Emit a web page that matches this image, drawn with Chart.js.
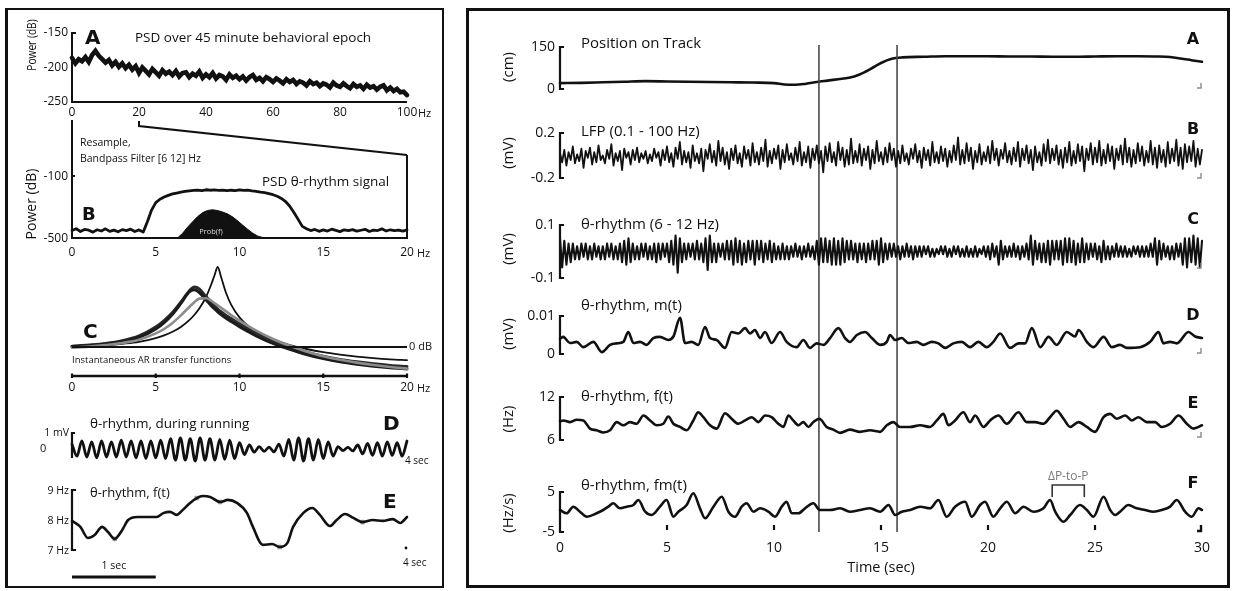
<!DOCTYPE html>
<html><head><meta charset="utf-8">
<script src="https://cdn.jsdelivr.net/npm/chart.js@4"></script>
<style>
html,body{margin:0;padding:0;background:#fff;}
#stage{position:relative;width:1233px;height:591px;overflow:hidden;background:#fff;font-family:"Open Sans",sans-serif;color:#111;}
.t{position:absolute;white-space:nowrap;line-height:1;}
.box{position:absolute;box-sizing:border-box;border:2px solid #111;}
canvas{position:absolute;}
</style></head><body><div id="stage"></div>
<script>
// ---------------- DATA ----------------
// Left A: PSD over 45 minute epoch, 0..100 Hz (1 Hz grid), dB
const psdA = [-186,-194,-188,-191,-185,-192,-182,-176,-183,-188,
-193,-189,-197,-192,-199,-194,-201,-196,-203,-198,
-208,-200,-205,-210,-202,-207,-212,-204,-209,-206,
-211,-205,-213,-208,-207,-214,-209,-212,-206,-215,
-210,-214,-208,-216,-211,-213,-218,-210,-215,-212,
-217,-213,-219,-214,-211,-218,-215,-220,-214,-217,
-221,-216,-219,-223,-217,-221,-218,-224,-220,-222,
-226,-220,-224,-222,-227,-223,-225,-229,-222,-226,
-228,-223,-227,-230,-224,-228,-226,-231,-225,-229,
-227,-232,-228,-226,-233,-229,-234,-231,-236,-235,-240];
const psdAticksY = [-150,-200,-250];
const psdAticksX = [0,20,40,60,80,100];
// Left B: PSD theta signal 0..20 Hz (0.25 Hz grid)
const psdB = [-452,-440,-458,-445,-450,-462,-447,-455,-441,-457,-449,-460,-446,-452,-443,-458,-448,
-462,-395,-320,-272,-250,-236,-225,-216,-210,-205,-200,-196,-193,-191,-194,-189,-192,-190,-193,-191,-195,-192,-194,-190,-193,-192,-196,-199,-204,-208,-214,-221,-231,-245,-265,-295,-335,-380,-425,-440,
-452,-445,-457,-448,-455,-443,-451,-459,-447,-453,-446,-456,-450,-444,-458,-449,-452,-441,-455,-447,-453,-449,-456,-448];
const probF = [6.3,6.6,6.9,7.2,7.5,7.8,8.1,8.4,8.7,9.0,9.3,9.6,9.9,10.2,10.5,10.8,11.1,11.5];
const probV = [-500,-470,-430,-395,-362,-336,-322,-318,-323,-333,-345,-365,-390,-418,-445,-470,-488,-500];
const psdBticksY = [-100,-500];
const freqTicks20 = [0,5,10,15,20];
// Left C: instantaneous AR transfer functions (dB)
const arFreq   = [0,1,2,3,4,5,5.5,6,6.5,7,7.3,7.6,8,8.3,8.5,8.7,8.9,9.2,9.5,10,10.5,11,12,13,14,15,16,17,18,19,20];
const arThick1 = [0.2,0.5,0.9,1.6,2.8,5,6.6,8.6,11.2,14.0,15.0,14.5,12.6,11.2,10.3,9.5,8.8,7.9,7.1,5.8,4.6,3.5,1.6,0.0,-1.3,-2.3,-3.1,-3.7,-4.2,-4.6,-4.9];
const arThick2 = [0.0,0.3,0.7,1.3,2.4,4.5,6.1,8.2,10.9,13.8,14.3,13.6,11.8,10.4,9.6,8.8,8.1,7.2,6.4,5.1,3.9,2.8,0.9,-0.6,-1.9,-2.9,-3.7,-4.3,-4.8,-5.2,-5.5];
const arGray   = [-0.2,0.1,0.5,1.0,1.8,3.4,4.5,6.0,7.9,10.0,11.2,12.1,12.2,11.6,11.0,10.4,9.8,8.9,8.0,6.6,5.3,4.1,2.0,0.3,-1.1,-2.3,-3.2,-3.9,-4.5,-5.0,-5.4];
const arSharp  = [0.0,0.2,0.4,0.8,1.3,2.2,2.9,3.8,5.0,6.7,8.0,9.6,12.5,15.5,17.8,20.0,17.5,13.5,10.6,7.4,5.3,3.9,1.9,0.5,-0.5,-1.3,-1.9,-2.4,-2.8,-3.1,-3.3];
// Left D: theta during running, 0..4 s (successive extremes), mV
const runTheta = [0.3,
-0.45,0.5,-0.5,0.45,-0.55,0.5,-0.5,0.45,-0.5,0.55,-0.5,0.5,-0.55,0.5,-0.6,0.5,-0.55,0.55,-0.6,
0.65,-0.7,0.7,-0.7,0.65,-0.75,0.7,-0.7,0.65,-0.7,0.6,-0.65,0.55,-0.6,
0.4,-0.35,0.25,-0.2,0.15,-0.15,0.12,-0.18,
0.3,-0.45,0.6,-0.7,0.7,-0.75,0.65,-0.7,0.6,-0.6,0.45,-0.45,
0.15,-0.1,0.1,-0.12,
0.25,-0.3,0.35,-0.4,0.4,-0.45,0.45,-0.4,0.4,-0.45,0.5];
// Left E: theta f(t), 0..4 s, Hz
const ftLT = [0,0.1,0.19,0.27,0.36,0.43,0.51,0.6,0.67,0.78,0.9,1.01,1.09,1.17,1.25,1.32,1.41,1.49,1.56,1.65,1.77,1.86,1.97,2.09,2.16,2.28,2.39,2.48,2.57,2.64,2.76,2.87,2.96,3.08,3.16,3.26,3.36,3.47,3.59,3.71,3.83,3.92,4.0];
const ftLV = [7.97,7.77,7.4,7.5,7.77,7.6,7.37,7.67,8.0,8.1,8.1,8.1,8.23,8.27,8.17,8.33,8.57,8.73,8.8,8.77,8.6,8.67,8.57,8.23,7.77,7.17,7.2,7.1,7.23,7.77,8.23,8.4,8.17,7.8,8.0,8.2,8.07,7.93,8.0,7.97,8.03,7.9,8.1];
const ftMarkT = [0.51,1.49,1.77,2.48,3.47];
const ftMarkV = [7.37,8.73,8.6,7.1,7.93];
const ftLticks = [9,8,7];

// Right panel (time 0..30 s)
const timeTicks = [0,5,10,15,20,25,30];
const eventTimes = [12.1,15.75];
const ppStart = 23.0, ppEnd = 24.5;
const posT = [0,1,2,3,4,5,6,7,8,9,10,10.5,11,11.5,12,12.5,13,13.5,14,14.5,15,15.5,16,17,18,19,20,21,22,23,24,25,26,27,28,28.5,29,29.5,30];
const posV = [21,22,24,26,28,27,26,25,24,23,21,16,15,19,25,30,35,40,52,71,93,108,113,115,117,117,117,116,116,115,115,116,117,117,116,114,109,103,97];
// LFP 0.1-100 Hz, 0..30 s (0.1 s grid), mV
const lfp = [.02,-.06,.05,-.09,.03,-.04,.08,-.07,.01,-.05,
.06,-.11,.04,-.02,.07,-.08,.03,-.06,.09,-.04,
.00,-.07,.05,-.03,.10,-.09,.02,-.05,.04,-.13,
.06,-.02,.03,-.08,.05,-.04,.07,-.06,.02,-.03,
.04,-.07,.01,-.05,.06,-.02,.03,-.09,.05,-.04,
.08,-.06,.02,-.10,.07,-.03,.12,-.08,.04,-.06,
.03,-.11,.09,-.05,.02,-.07,.06,-.14,.05,-.03,
.10,-.06,.04,-.09,.13,-.05,.07,-.08,.03,-.12,
.06,-.04,.09,-.07,.02,-.10,.08,-.03,.05,-.09,
.11,-.06,.03,-.08,.07,-.05,.14,-.10,.04,-.07,
.06,-.03,.09,-.12,.05,-.06,.10,-.04,.02,-.08,
.07,-.05,.12,-.09,.03,-.06,.08,-.11,.06,-.04,
.09,-.07,.04,-.15,.08,-.05,.11,-.06,.03,-.09,
.12,-.04,.07,-.10,.05,-.08,.15,-.07,.04,-.06,
.10,-.09,.06,-.04,.08,-.12,.05,-.07,.13,-.05,
.03,-.08,.07,-.06,.11,-.04,.06,-.10,.04,-.07,
.09,-.05,.02,-.08,.06,-.03,.10,-.06,.04,-.11,
.07,-.04,.05,-.09,.12,-.06,.03,-.07,.08,-.05,
.06,-.10,.04,-.06,.09,-.04,.16,-.08,.05,-.07,
.11,-.05,.07,-.12,.04,-.06,.10,-.08,.03,-.05,
.08,-.07,.13,-.04,.06,-.09,.05,-.03,.11,-.06,
.04,-.08,.07,-.05,.12,-.10,.06,-.04,.09,-.07,
.05,-.13,.08,-.06,.03,-.09,.10,-.05,.14,-.07,
.06,-.04,.09,-.08,.05,-.11,.07,-.06,.12,-.09,
.04,-.07,.10,-.05,.08,-.14,.06,-.04,.11,-.08,
.07,-.06,.13,-.09,.05,-.07,.10,-.05,.08,-.12,
.06,-.04,.09,-.08,.15,-.06,.07,-.10,.05,-.07,
.11,-.05,.08,-.09,.04,-.06,.13,-.08,.07,-.11,
.09,-.06,.05,-.10,.12,-.07,.06,-.05,.14,-.09,
.07,-.12,.10,-.06,.08,-.05,.13,-.10,.06,-.08,.05];
// theta-band signal 6-12 Hz, 0..30 s, mV
const theta = [.05,-.06,.04,-.05,.03,-.04,.03,-.03,.02,-.03,
.03,-.02,.03,-.03,.02,-.03,.03,-.02,.02,-.03,
.02,-.03,.03,-.02,.03,-.03,.02,-.03,.03,-.04,
.04,-.05,.05,-.04,.03,-.03,.02,-.03,.03,-.02,
.03,-.03,.02,-.03,.03,-.04,.03,-.03,.03,-.02,
.03,-.04,.04,-.05,.06,-.08,.05,-.04,.03,-.03,
.03,-.02,.03,-.03,.04,-.03,.03,-.04,.05,-.07,
.06,-.04,.03,-.04,.03,-.02,.03,-.03,.04,-.03,
.04,-.05,.05,-.04,.04,-.05,.03,-.04,.04,-.03,
.04,-.05,.04,-.03,.04,-.04,.03,-.03,.04,-.04,
.03,-.03,.02,-.03,.03,-.03,.02,-.03,.02,-.02,
.03,-.02,.02,-.03,.02,-.02,.03,-.02,.02,-.03,
.04,-.05,.05,-.04,.05,-.04,.04,-.05,.05,-.05,
.04,-.05,.05,-.04,.04,-.03,.04,-.03,.03,-.04,
.03,-.03,.03,-.04,.03,-.03,.04,-.03,.04,-.05,
.05,-.04,.03,-.03,.03,-.02,.03,-.02,.02,-.03,
.02,-.02,.03,-.02,.02,-.03,.02,-.02,.02,-.02,
.02,-.01,.02,-.02,.01,-.02,.01,-.01,.02,-.01,
.02,-.02,.01,-.02,.02,-.01,.02,-.02,.01,-.02,
.02,-.02,.01,-.02,.02,-.02,.01,-.01,.02,-.02,
.02,-.03,.03,-.02,.02,-.05,.04,-.03,.02,-.02,
.02,-.02,.03,-.02,.02,-.03,.02,-.02,.03,-.03,
.06,-.05,.04,-.03,.03,-.04,.03,-.04,.04,-.05,
.04,-.03,.04,-.03,.04,-.05,.05,-.04,.05,-.04,
.04,-.05,.03,-.04,.05,-.04,.03,-.03,.03,-.02,
.03,-.03,.02,-.04,.04,-.03,.02,-.03,.02,-.02,
.03,-.02,.02,-.02,.02,-.02,.01,-.02,.02,-.01,
.02,-.02,.02,-.02,.02,-.02,.03,-.02,.05,-.05,
.04,-.03,.03,-.02,.02,-.03,.02,-.03,.03,-.02,
.03,-.05,.05,-.06,.05,-.04,.06,-.05,.05,-.06,.04];
// theta amplitude m(t), mV
const mT = [0,0.16,0.23,0.47,0.78,1.09,1.56,1.95,2.34,2.65,2.96,3.19,3.43,3.74,4.05,4.36,4.67,5.06,5.30,5.61,5.84,6.15,6.46,6.78,7.01,7.32,7.71,8.02,8.33,8.65,8.88,9.11,9.35,9.58,9.89,10.28,10.59,11.06,11.37,11.68,11.99,12.31,12.62,13.01,13.32,13.55,13.87,14.26,14.57,14.96,15.27,15.42,15.66,15.97,16.28,16.67,16.98,17.37,17.68,18.0,18.38,18.77,19.16,19.55,19.94,20.25,20.57,21.03,21.42,21.73,22.05,22.44,22.83,23.21,23.68,24.07,24.23,24.62,24.93,25.4,25.79,26.17,26.49,27.11,27.58,27.97,28.2,28.51,28.82,29.37,29.68,30.0];
const mV = [.0040,.0045,.0042,.0029,.0032,.0018,.0032,.0005,.0024,.0028,.0032,.0058,.0029,.0032,.0024,.0042,.0045,.0037,.0046,.0095,.0029,.0032,.0024,.0071,.0042,.0037,.0016,.0058,.0054,.0068,.0054,.0063,.0042,.0058,.0029,.0058,.0032,.0018,.0037,.0016,.0028,.0024,.0042,.0068,.0042,.0032,.0050,.0058,.0042,.0024,.0032,.0050,.0037,.0042,.0029,.0032,.0024,.0032,.0028,.0016,.0028,.0032,.0018,.0032,.0018,.0032,.0054,.0016,.0028,.0028,.0068,.0018,.0045,.0024,.0058,.0046,.0063,.0032,.0018,.0045,.0018,.0024,.0016,.0018,.0032,.0058,.0028,.0032,.0028,.0058,.0046,.0042];
// theta frequency f(t), Hz
const fT = [0,0.16,0.47,0.78,1.09,1.40,1.71,2.02,2.34,2.65,2.96,3.27,3.58,3.90,4.21,4.52,4.83,5.06,5.30,5.61,5.92,6.23,6.46,6.70,7.01,7.32,7.71,8.02,8.33,8.65,8.96,9.27,9.58,9.89,10.2,10.44,10.67,10.9,11.14,11.37,11.61,11.84,12.12,12.46,12.77,13.09,13.55,14.02,14.49,14.96,15.27,15.58,15.89,16.36,16.83,17.29,17.61,17.92,18.15,18.46,18.85,19.16,19.4,19.79,20.1,20.49,20.88,21.42,21.81,22.2,22.59,22.9,23.21,23.53,23.84,24.23,24.62,25.0,25.4,25.71,26.02,26.41,26.72,27.03,27.42,27.81,28.12,28.51,28.9,29.29,29.6,30.0];
const fV = [8.6,8.73,8.50,8.82,8.73,7.59,7.36,7.05,7.36,8.50,8.05,8.50,8.27,9.41,8.73,8.05,8.27,9.27,8.27,7.82,7.36,8.73,9.87,9.18,8.05,7.59,9.73,8.96,8.27,8.73,9.18,8.50,9.41,9.18,8.27,7.82,9.41,8.73,8.05,8.50,7.82,8.50,8.96,7.82,7.45,7.0,7.45,7.14,7.36,7.14,8.05,8.50,7.82,7.82,8.05,7.82,8.73,9.64,8.05,8.73,9.87,8.50,9.41,7.82,8.73,9.41,8.27,9.87,8.50,8.50,8.27,9.18,10.09,8.96,7.82,8.50,7.82,7.14,9.18,9.64,8.96,9.41,8.73,9.18,8.50,8.50,7.82,8.27,9.41,8.27,7.59,8.05];
// frequency modulation fm(t), Hz/s
const fmT = [0,0.31,0.62,0.93,1.25,1.71,2.02,2.26,2.49,2.8,3.12,3.43,3.66,3.98,4.29,4.67,4.98,5.30,5.53,5.92,6.23,6.54,6.78,7.17,7.56,7.87,8.18,8.49,8.72,9.04,9.35,9.74,10.05,10.36,10.59,10.83,11.14,11.45,11.84,12.15,12.62,13.09,13.55,14.02,14.49,14.96,15.35,15.66,15.97,16.36,16.83,17.29,17.68,18.07,18.46,18.93,19.24,19.63,19.86,20.25,20.57,20.88,21.27,21.66,22.12,22.59,22.9,23.14,23.53,23.84,24.3,24.62,24.93,25.4,25.71,25.94,26.17,26.56,26.95,27.34,27.73,28.12,28.51,28.82,29.21,29.52,29.84,30.0];
const fmV = [0.5,-0.33,1.33,0.08,-1.17,-0.33,0.5,1.33,2.17,0.92,1.33,1.75,3.0,0.08,-0.75,1.33,3.0,-1.17,0.08,1.75,4.67,0.92,-1.58,1.33,3.83,0.08,-1.17,1.33,2.17,0.08,0.92,0.08,-1.17,1.33,2.58,-0.33,-0.33,0.92,2.17,0.5,0.5,0.92,0.08,0.5,0.92,0.08,1.75,-0.75,0.08,0.5,1.33,0.92,3.0,-1.17,1.33,2.58,-1.17,1.75,2.58,-1.17,0.92,2.58,-0.33,1.33,0.08,0.92,3.0,0.08,-2.42,-0.75,1.75,0.5,-1.17,3.83,0.5,-0.75,0.08,1.75,0.92,0.5,0.08,0.5,1.33,3.0,0.08,-1.17,0.92,0.5];

// ---------------- HELPERS ----------------
const stage = document.getElementById('stage');
const INK = '#111';
function uni(arr, x0, x1){ return arr.map((v,i)=>({x: x0 + (x1-x0)*i/(arr.length-1), y: v})); }
function pairs(xs, ys){ return xs.map((x,i)=>({x: x, y: ys[i]})); }
function L(data, w, color, extra){ return Object.assign({data, borderColor: color||INK, backgroundColor: color||INK, borderWidth: w, pointRadius: 0, fill: false, clip: false, tension: 0, borderJoinStyle:'round', borderCapStyle:'round'}, extra||{}); }
function poly(ctx, pts, w, col){ ctx.beginPath(); ctx.moveTo(pts[0][0], pts[0][1]); for(let i=1;i<pts.length;i++) ctx.lineTo(pts[i][0], pts[i][1]); ctx.lineWidth = w; ctx.strokeStyle = col||INK; ctx.lineCap='butt'; ctx.lineJoin='miter'; ctx.stroke(); }
function ctext(ctx, s, x, y, size, align, color, weight){ ctx.font = (weight||'normal')+' '+size+'px "Open Sans", sans-serif'; ctx.fillStyle = color||INK; ctx.textAlign = align||'left'; ctx.textBaseline='middle'; ctx.fillText(s, x, y); }
function addText(s, x, y, o){ o=o||{}; const d=document.createElement('div'); d.className='t'; d.textContent=s;
  d.style.fontSize=(o.size||13)+'px'; if(o.weight) d.style.fontWeight=o.weight; if(o.font) d.style.fontFamily=o.font; if(o.color) d.style.color=o.color;
  d.style.left=x+'px'; d.style.top=y+'px';
  const ax = o.align==='center' ? '-50%' : (o.align==='right' ? '-100%' : '0');
  let tr = 'translate('+ax+',-50%)';
  if(o.rot) tr = 'translate(-50%,-50%) rotate(-90deg)' + (o.sx ? ' scaleX('+o.sx+')' : '');
  d.style.transform = tr; stage.appendChild(d); }
function addBox(x0,y0,x1,y1,w,lw){ const d=document.createElement('div'); d.className='box'; d.style.left=x0+'px'; d.style.top=y0+'px'; d.style.width=(x1-x0)+'px'; d.style.height=(y1-y0)+'px'; d.style.borderWidth=w+'px'; if(lw) d.style.borderLeftWidth=lw+'px'; stage.appendChild(d); }

function mk(cr, pr, xr, yr, datasets, draw){
  const c = document.createElement('canvas');
  const W = cr[2]-cr[0], H = cr[3]-cr[1];
  c.width = W; c.height = H;
  c.style.left = cr[0]+'px'; c.style.top = cr[1]+'px'; c.style.width = W+'px'; c.style.height = H+'px';
  stage.appendChild(c);
  return new Chart(c, {
    type: 'line',
    data: { datasets },
    options: {
      responsive: false, animation: false, devicePixelRatio: 1, events: [],
      layout: { padding: { left: pr[0]-cr[0], top: pr[1]-cr[1], right: cr[2]-pr[2], bottom: cr[3]-pr[3] } },
      plugins: { legend: { display: false }, tooltip: { enabled: false } },
      scales: {
        x: { type: 'linear', min: xr[0], max: xr[1], display: false },
        y: { type: 'linear', min: yr[0], max: yr[1], display: false }
      }
    },
    plugins: [{ id: 'deco', afterDatasetsDraw(chart){
      const ctx = chart.ctx; ctx.save(); ctx.translate(-cr[0], -cr[1]);
      const X = v => chart.scales.x.getPixelForValue(v) + cr[0];
      const Y = v => chart.scales.y.getPixelForValue(v) + cr[1];
      if (draw) draw(ctx, X, Y);
      ctx.restore(); } }]
  });
}

// ---------------- FRAMES ----------------
addBox(5, 8, 444, 588, 2, 3);
addBox(466, 8, 1230, 588, 3);

// ---------------- LEFT PANEL ----------------
const LX = [10, 440];
// A
mk([LX[0],20,LX[1],124],[72,33,407,102],[0,100],[-250,-150],
  [L(uni(psdA,0,100),4.6,INK,{borderJoinStyle:'miter'})],
  (ctx,X,Y)=>{
    poly(ctx,[[X(0)+4,Y(-150)],[X(0),Y(-150)],[X(0),Y(-250)],[X(100),Y(-250)]],2);
    psdAticksY.forEach(v=>ctext(ctx,String(v),68,Y(v),12,'right'));
    psdAticksX.forEach(v=>ctext(ctx,String(v),X(v),113,12,'center'));
    ctext(ctx,'Hz',X(100)+11,114,11,'left');
  });
// B
mk([LX[0],115,LX[1],262],[72,133,407,238],[0,20],[-500,177],
  [L(pairs(probF,probV),1,INK,{fill:'start'}), L(uni(psdB,0,20),2.8)],
  (ctx,X,Y)=>{
    poly(ctx,[[X(0),120],[X(0),Y(-500)],[X(20),Y(-500)],[X(20),155]],2);
    poly(ctx,[[139,121],[139,126],[X(20),155]],2);
    poly(ctx,[[X(0),Y(-100)],[X(0)+3,Y(-100)]],2);
    psdBticksY.forEach(v=>ctext(ctx,String(v),68,Y(v)+1,12,'right'));
    freqTicks20.forEach(v=>ctext(ctx,String(v),X(v),253,12,'center'));
    ctext(ctx,'Hz',X(20)+10,254,11,'left');
  });
// C
mk([LX[0],255,LX[1],400],[72,267,407,376],[0,20],[-7.25,20],
  [L(pairs(arFreq,arGray),2.6,'#8c8c8c',{cubicInterpolationMode:'monotone'}),
   L(pairs(arFreq,arThick2),3,'#1c1c1c',{cubicInterpolationMode:'monotone'}),
   L(pairs(arFreq,arThick1),3,'#2a2a2a',{cubicInterpolationMode:'monotone'}),
   L(pairs(arFreq,arSharp),1.8,INK,{cubicInterpolationMode:'monotone'})],
  (ctx,X,Y)=>{
    poly(ctx,[[X(0),Y(0)],[X(20),Y(0)]],2);
    ctext(ctx,'0 dB',X(20)+2,Y(0),11,'left');
    poly(ctx,[[X(0),Y(-7.25)],[X(20),Y(-7.25)]],2.5);
    freqTicks20.forEach(v=>{ poly(ctx,[[X(v),Y(-7.25)-2.5],[X(v),Y(-7.25)+2]],2.2); ctext(ctx,String(v),X(v),388,12,'center'); });
    ctext(ctx,'Hz',X(20)+10,389,11,'left');
  });
// D
mk([LX[0],405,LX[1],470],[72,433,407,461],[0,4],[-0.75,1.0],
  [L(uni(runTheta,0,4),2.8,INK,{cubicInterpolationMode:'monotone'})],
  (ctx,X,Y)=>{
    poly(ctx,[[X(0)+3,Y(1)],[X(0),Y(1)],[X(0),Y(-0.56)]],2.2);
    ctext(ctx,'1 mV',69,Y(1),10.5,'right');
    ctext(ctx,'0',40,Y(0),11,'left');
    ctext(ctx,'4 sec',X(4)-2,461,10,'left');
  });
// E
mk([LX[0],470,LX[1],585],[72,490,407,550],[0,4],[7,9],
  [L(pairs(ftLT,ftLV),2.6,INK,{cubicInterpolationMode:'monotone'}),
   {data:pairs(ftMarkT,ftMarkV), showLine:false, pointRadius:2.6, pointStyle:'rect', pointBackgroundColor:'#b0b0b0', pointBorderColor:'#909090', pointBorderWidth:0.8, clip:false}],
  (ctx,X,Y)=>{
    poly(ctx,[[X(0)+4,Y(9)],[X(0),Y(9)],[X(0),Y(7)],[X(0)+4,Y(7)]],2.2);
    ftLticks.forEach(v=>ctext(ctx,v+' Hz',69,Y(v)+1,10.5,'right'));
    poly(ctx,[[X(0),577],[X(1),577]],2.8);
    ctext(ctx,'1 sec',X(0.5),566,10.5,'center');
    ctx.beginPath(); ctx.arc(X(4)-1,548,1.4,0,Math.PI*2); ctx.fillStyle=INK; ctx.fill();
    ctext(ctx,'4 sec',X(4)-4,563,10,'left');
  });

// ---------------- RIGHT PANEL ----------------
const RX = [470, 1228];
function rAxis(ctx,X,Y,lo,hi,cornerY,labels){
  poly(ctx,[[X(0)+4,Y(hi)],[X(0),Y(hi)],[X(0),Y(lo)],[X(0)+4,Y(lo)]],2.2);
  labels.forEach(v=>ctext(ctx,String(v),555,Y(v),14,'right'));
  poly(ctx,[[X(30)-5,cornerY],[X(30)-1,cornerY],[X(30)-1,cornerY-5]],1.4,'#8a8a8a');
}
// A: position (canvas tall to carry the event lines)
mk([RX[0],15,RX[1],545],[560,47,1202,89],[0,30],[0,150],
  [L(pairs(posT,posV),2.6,INK,{cubicInterpolationMode:'monotone'})],
  (ctx,X,Y)=>{
    eventTimes.forEach(t=>poly(ctx,[[X(t),45],[X(t),532]],1.6,'#4a4a4a'));
    rAxis(ctx,X,Y,0,150,88,[150,0]);
  });
// B: LFP
mk([RX[0],108,RX[1],196],[560,133,1202,178],[0,30],[-0.2,0.2],
  [L(uni(lfp,0,30),1.8)],
  (ctx,X,Y)=>rAxis(ctx,X,Y,-0.2,0.2,178,[0.2,-0.2]));
// C: theta band
mk([RX[0],200,RX[1],290],[560,225,1202,278],[0,30],[-0.1,0.1],
  [L(uni(theta,0,30),2.1)],
  (ctx,X,Y)=>rAxis(ctx,X,Y,-0.1,0.1,268,[0.1,-0.1]));
// D: m(t)
mk([RX[0],292,RX[1],372],[560,316,1202,354],[0,30],[0,0.01],
  [L(pairs(mT,mV),2.6,INK,{cubicInterpolationMode:'monotone'})],
  (ctx,X,Y)=>rAxis(ctx,X,Y,0,0.01,353,[0.01,0]));
// E: f(t)
mk([RX[0],378,RX[1],458],[560,397,1202,440],[0,30],[6,12],
  [L(pairs(fT,fV),2.6,INK,{cubicInterpolationMode:'monotone'})],
  (ctx,X,Y)=>rAxis(ctx,X,Y,6,12,437,[12,6]));
// F: fm(t)
mk([RX[0],465,RX[1],582],[560,492,1202,532],[0,30],[-5,5],
  [L(pairs(fmT,fmV),2.6,INK,{cubicInterpolationMode:'monotone'})],
  (ctx,X,Y)=>{
    poly(ctx,[[X(0)+4,Y(5)],[X(0),Y(5)],[X(0),Y(-5)],[X(0)+4,Y(-5)]],2.2);
    [5,-5].forEach(v=>ctext(ctx,String(v),555,Y(v),14,'right'));
    poly(ctx,[[X(30)-5,531],[X(30)-1,531],[X(30)-1,525]],2.4);
    timeTicks.slice(1,-1).forEach(v=>poly(ctx,[[X(v),525],[X(v),530]],2.2));
    timeTicks.forEach(v=>ctext(ctx,String(v),X(v),548,14,'center'));
    ctext(ctx,'Time (sec)',X(15),568,14.5,'center');
    poly(ctx,[[X(ppStart),497],[X(ppStart),485],[X(ppEnd),485],[X(ppEnd),497]],1.6,'#333');
    ctext(ctx,'\u0394P-to-P',(X(ppStart)+X(ppEnd))/2,477,12,'center','#7a7a7a');
  });

// ---------------- TEXT ----------------
const BOLD = {weight:'bold', font:'"DejaVu Sans", sans-serif'};
addText('A', 85, 37, Object.assign({size:20}, BOLD));
addText('PSD over 45 minute behavioral epoch', 135, 38, {size:13.5});
addText('Power (dB)', 31, 45, {size:13, rot:true, sx:0.78});
addText('Power (dB)', 31, 204, {size:14, rot:true});
addText('Resample,', 80, 142, {size:10.5});
addText('Bandpass Filter [6 12] Hz', 80, 158, {size:10.5});
addText('PSD \u03b8-rhythm signal', 262, 182, {size:13.5});
addText('B', 82, 214, Object.assign({size:18}, BOLD));
addText('Prob(f)', 211, 232, {size:7.5, color:'#ddd', align:'center'});
addText('C', 83, 331, Object.assign({size:20}, BOLD));
addText('Instantaneous AR transfer functions', 72, 360, {size:9.5});
addText('\u03b8-rhythm, during running', 90, 424, {size:13.5});
addText('D', 383, 423, Object.assign({size:20}, BOLD));
addText('\u03b8-rhythm, f(t)', 90, 492, {size:13});
addText('E', 383, 501, Object.assign({size:20}, BOLD));

const rTitles = ['Position on Track','LFP (0.1 - 100 Hz)','\u03b8-rhythm (6 - 12 Hz)','\u03b8-rhythm, m(t)','\u03b8-rhythm, f(t)','\u03b8-rhythm, fm(t)'];
const rTitleY = [42,130,223,304,395,484];
rTitles.forEach((s,i)=>addText(s, 581, rTitleY[i], {size:15}));
const rUnits = ['(cm)','(mV)','(mV)','(mV)','(Hz)','(Hz/s)'];
const rUnitY = [67,153,249,334,419,513];
rUnits.forEach((s,i)=>addText(s, 507, rUnitY[i], {size:15, rot:true}));
const rLetters = ['A','B','C','D','E','F'];
const rLetterY = [39,129,219,315,403,483];
rLetters.forEach((s,i)=>addText(s, 1193, rLetterY[i], Object.assign({size:16, align:'center'}, BOLD)));
</script></body></html>
